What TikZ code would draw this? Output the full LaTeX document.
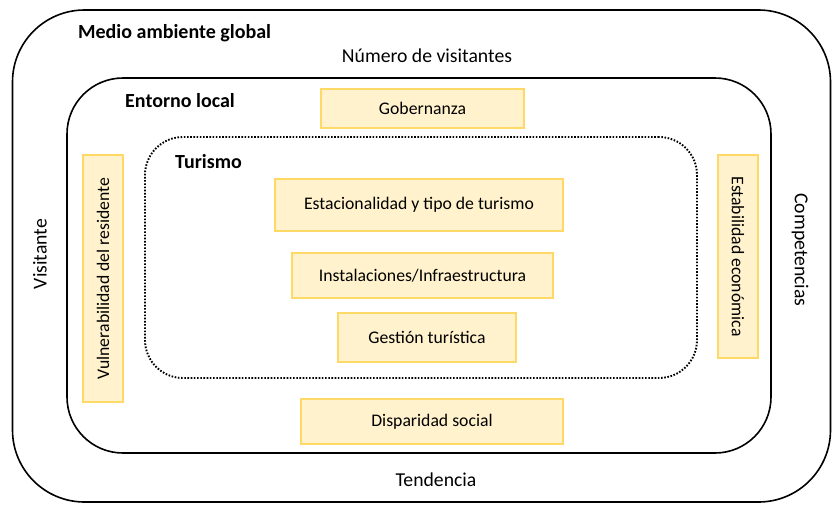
\documentclass[tikz,border=0pt]{standalone}
\usepackage{fontspec}
\setmainfont{Carlito}
\begin{document}
\begin{tikzpicture}[x=1pt,y=-1pt,
  frame/.style={draw=black,line width=1.6pt,inner sep=0pt},
  ybox/.style={draw=yboxline,fill=yboxfill,line width=2pt,inner sep=0pt,font=\fontsize{17.7}{20}\selectfont},
  lbl/.style={inner sep=0pt,font=\fontsize{19.7}{22}\selectfont},
  title/.style={inner sep=0pt,anchor=west,font=\fontsize{20}{22}\selectfont\bfseries}]
\definecolor{yboxline}{HTML}{FFD966}
\definecolor{yboxfill}{HTML}{FFF2CC}
\useasboundingbox (0,0) rectangle (833,504);
\node[frame,rounded corners=72pt,minimum width=818pt,minimum height=492pt] (outer) at (421.5,256) {};
\node[frame,rounded corners=56pt,minimum width=704pt,minimum height=375pt] (inner) at (419,265.5) {};
\node[draw=black,line width=1.9pt,dash pattern=on 1.6pt off 1.6pt,inner sep=0pt,rounded corners=38pt,minimum width=552pt,minimum height=241pt] (tour) at (421,257.5) {};
\node[title] (tglobal) at (78,33) {Medio ambiente global};
\node[title] (tlocal) at (125,101) {Entorno local};
\node[title] (ttur) at (175,162) {Turismo};
\node[lbl] (nvis) at (427,56) {Número de visitantes};
\node[lbl,rotate=90] (visit) at (40,254) {Visitante};
\node[lbl,rotate=-90] (comp) at (800,250) {Competencias};
\node[lbl] (tend) at (436,480) {Tendencia};
\node[ybox,minimum width=203pt,minimum height=39pt] (gob) at (422.5,108.5) {Gobernanza};
\node[ybox,minimum width=288pt,minimum height=52pt] (est) at (419,205) {Estacionalidad y tipo de turismo};
\node[ybox,minimum width=261pt,minimum height=45pt] (inst) at (422.5,275.5) {Instalaciones/Infraestructura};
\node[ybox,minimum width=178pt,minimum height=49pt] (gest) at (427,337.5) {Gestión turística};
\node[ybox,minimum width=262pt,minimum height=45pt] (disp) at (432,421.5) {Disparidad social};
\node[ybox,rotate=90,minimum width=247pt,minimum height=40pt] (vuln) at (103,278.5) {Vulnerabilidad del residente};
\node[ybox,rotate=-90,minimum width=203pt,minimum height=40pt] (estab) at (738,256.5) {Estabilidad económica};
\end{tikzpicture}
\end{document}
